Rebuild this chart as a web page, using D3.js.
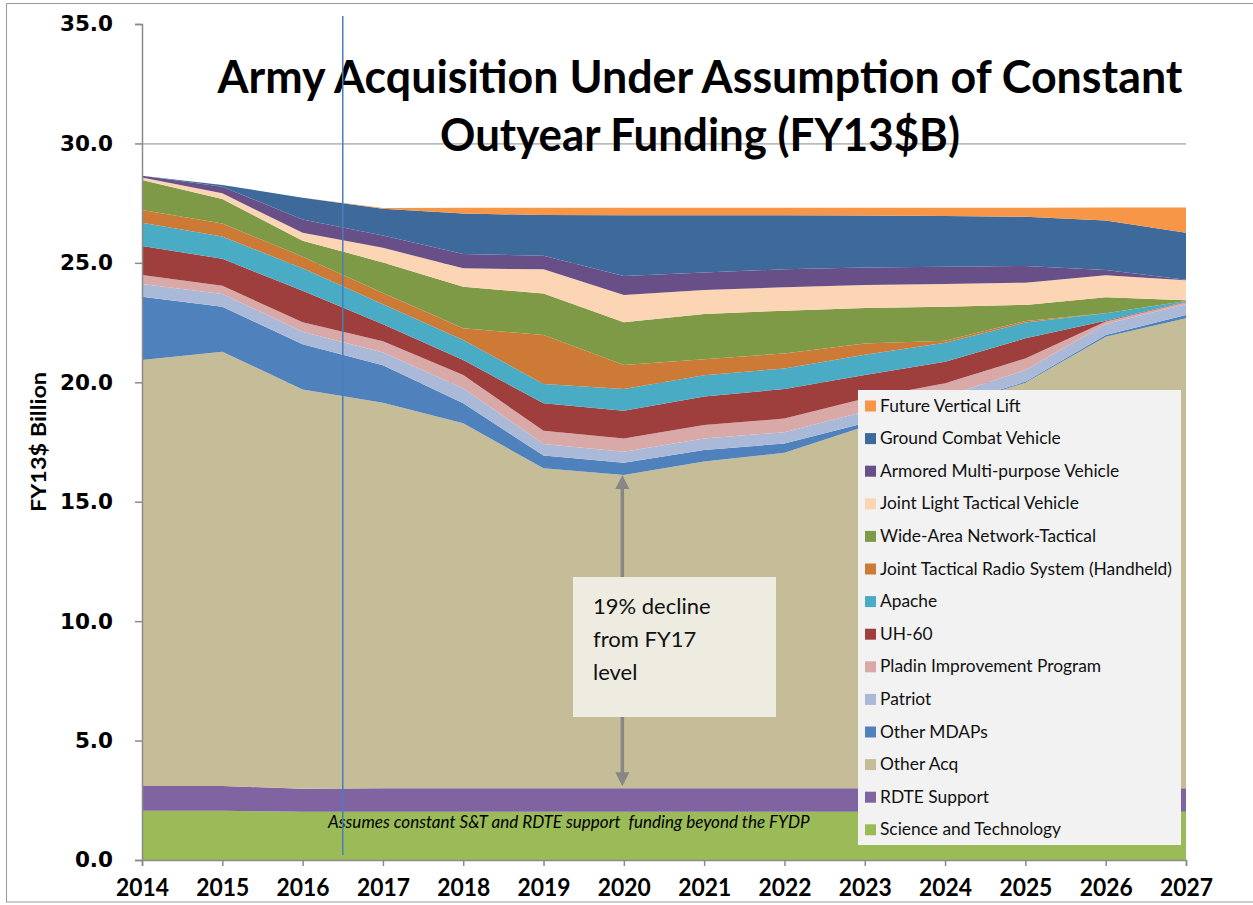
<!DOCTYPE html>
<html><head><meta charset="utf-8">
<script src="https://cdn.jsdelivr.net/npm/d3@7"></script>
<style>body{margin:0;background:#fff}</style>
</head><body>
<svg id="chart" width="1253" height="905"></svg>
<script>
// ---- data (FY13$ Billion), stacked bottom -> top ----
const years        = [2014,2015,2016,2017,2018,2019,2020,2021,2022,2023,2024,2025,2026,2027];
const scienceTech  = [2.06,2.06,2.02,2.02,2.02,2.02,2.02,2.02,2.02,2.02,2.02,2.02,2.02,2.02];
const rdteSupport  = [1.04,1.04,0.96,0.98,0.98,0.98,0.98,0.98,0.98,0.98,0.98,0.98,0.98,0.98];
const otherAcq     = [17.83,18.18,16.72,16.14,15.28,13.40,13.12,13.68,14.05,15.15,15.92,16.98,18.91,19.68];
const otherMDAPs   = [2.65,1.88,1.89,1.57,0.84,0.53,0.51,0.48,0.39,0.15,0.06,0.04,0.07,0.14];
const patriot      = [0.53,0.54,0.53,0.54,0.63,0.49,0.46,0.49,0.47,0.48,0.42,0.49,0.46,0.45];
const paladin      = [0.38,0.34,0.39,0.47,0.55,0.55,0.56,0.56,0.57,0.54,0.56,0.49,0.10,0.08];
const uh60         = [1.22,1.13,1.32,0.71,0.63,1.15,1.16,1.19,1.24,0.98,0.90,0.84,0.04,0.02];
const apache       = [0.97,0.93,0.94,0.84,0.84,0.81,0.91,0.89,0.86,0.85,0.80,0.66,0.31,0.03];
const jtrs         = [0.53,0.55,0.49,0.47,0.49,2.05,1.00,0.67,0.63,0.47,0.08,0.07,0.00,0.00];
const winT         = [1.26,1.02,0.67,1.28,1.74,1.74,1.79,1.90,1.79,1.49,1.42,0.67,0.67,0.03];
const jltv         = [0.10,0.24,0.33,0.61,0.77,1.01,1.14,1.00,0.98,0.96,0.95,0.93,0.92,0.84];
const amv          = [0.08,0.28,0.56,0.52,0.60,0.57,0.80,0.74,0.75,0.74,0.73,0.70,0.22,0.02];
const gcv          = [0.00,0.07,0.91,1.12,1.70,1.70,2.54,2.39,2.26,2.17,2.12,2.06,2.07,1.97];
const fvl          = [0.00,0.00,0.00,0.03,0.24,0.31,0.32,0.32,0.32,0.33,0.35,0.38,0.55,1.06];

const seriesNames = ["Science and Technology","RDTE Support","Other Acq","Other MDAPs","Patriot",
  "Pladin Improvement Program","UH-60","Apache","Joint Tactical Radio System (Handheld)",
  "Wide-Area Network-Tactical","Joint Light Tactical Vehicle","Armored Multi-purpose Vehicle",
  "Ground Combat Vehicle","Future Vertical Lift"];
const seriesValues = [scienceTech,rdteSupport,otherAcq,otherMDAPs,patriot,paladin,uh60,apache,jtrs,winT,jltv,amv,gcv,fvl];
const seriesColors = ["#9bbb59","#8064a2","#c4bd97","#4f81bd","#aab9d7","#d9a9a8","#9e3f3d","#4aabc5",
  "#cc7a36","#7e9a47","#fcd5b5","#684f87","#3d6a9a","#f79646"];
const yTicks = [0,5,10,15,20,25,30,35];

const titleLines = ["Army Acquisition Under Assumption of Constant","Outyear Funding (FY13$B)"];
const yAxisLabel = "FY13$ Billion";
const noteText = "Assumes constant S&T and RDTE support  funding beyond the FYDP";
const calloutLines = ["19% decline","from FY17","level"];

// ---- build ----
const svg = d3.select("#chart");
const x = d3.scaleLinear().domain([2014,2027]).range([142,1186]);
const y = d3.scaleLinear().domain([0,35]).range([860,24]);

const table = years.map((yr,i)=>{const o={year:yr}; seriesNames.forEach((n,k)=>o[n]=seriesValues[k][i]); return o;});
const stacked = d3.stack().keys(seriesNames)(table);

// outer border
svg.append("rect").attr("x",6.5).attr("y",3.5).attr("width",1270).attr("height",898.5)
  .attr("fill","none").attr("stroke","#9a9a9a").attr("stroke-width",1);

// gridlines
svg.append("g").selectAll("line").data(yTicks.filter(t=>t>0&&t<35)).join("line")
  .attr("x1",x(2014)).attr("x2",x(2027)).attr("y1",d=>y(d)+0.5).attr("y2",d=>y(d)+0.5)
  .attr("stroke","#8a8a8a").attr("stroke-width",1);

// areas
const area = d3.area().x(d=>x(d.data.year)).y0(d=>y(d[0])).y1(d=>y(d[1]));
svg.append("g").selectAll("path").data(stacked).join("path")
  .attr("d",area).attr("fill",(d,i)=>seriesColors[i]);

// axes
const yAxis = svg.append("g").attr("transform",`translate(${x(2014)},0)`)
  .call(d3.axisLeft(y).tickValues(yTicks).tickFormat(d3.format(".1f")).tickSize(7).tickPadding(22));
yAxis.selectAll("path,line").attr("stroke","#8a8a8a").attr("stroke-width",1.5);
yAxis.selectAll("text").attr("font-family","DejaVu Sans").attr("font-weight","bold")
  .attr("font-size",21.5).attr("fill","#000");

const xAxis = svg.append("g").attr("transform",`translate(0,${y(0)})`)
  .call(d3.axisBottom(x).tickValues(years).tickFormat(d3.format("d")).tickSize(6).tickPadding(12));
xAxis.selectAll("path,line").attr("stroke","#8a8a8a").attr("stroke-width",1.5);
xAxis.selectAll("text").attr("font-family","Lato").attr("font-weight","bold")
  .attr("font-size",25).attr("fill","#000")
  .attr("textLength",53).attr("lengthAdjust","spacingAndGlyphs");

// y axis label
svg.append("text").attr("transform",`translate(46,442) rotate(-90)`).attr("text-anchor","middle")
  .attr("font-family","Lato").attr("font-weight","bold").attr("font-size",21)
  .attr("textLength",140).attr("lengthAdjust","spacingAndGlyphs").text(yAxisLabel);

// helper to fit font-size to width
function fit(sel, w){ const cur = sel.node().getComputedTextLength(); const fs=parseFloat(sel.attr("font-size")); sel.attr("font-size", fs*w/cur); return fs*w/cur; }

// title (condensed to match)
svg.append("text").attr("x",700).attr("y",93).attr("text-anchor","middle")
  .attr("font-family","Lato").attr("font-weight","bold").attr("font-size",46)
  .attr("textLength",965).attr("lengthAdjust","spacingAndGlyphs").text(titleLines[0]);
svg.append("text").attr("x",700).attr("y",151).attr("text-anchor","middle")
  .attr("font-family","Lato").attr("font-weight","bold").attr("font-size",46)
  .attr("textLength",520).attr("lengthAdjust","spacingAndGlyphs").text(titleLines[1]);

// note
const nt = svg.append("text").attr("x",328).attr("y",828).attr("font-family","Lato").attr("font-style","italic")
  .attr("font-size",15).attr("xml:space","preserve").style("white-space","pre").text(noteText);
fit(nt, 482);

// vertical marker line
svg.append("line").attr("x1",x(2016.5)).attr("x2",x(2016.5)).attr("y1",16).attr("y2",855)
  .attr("stroke","#4a7ebb").attr("stroke-width",1.5);

// callout arrow
const ax = x(2020)-1.5;
const iOA = years.indexOf(2020);
const yTop = y(stacked[2][iOA][1]);
const yBot = y(stacked[1][iOA][1]) - 2;
svg.append("line").attr("x1",ax).attr("x2",ax).attr("y1",yTop+12).attr("y2",yBot-12)
  .attr("stroke","#878787").attr("stroke-width",3.5);
svg.append("path").attr("d",`M${ax},${yTop} L${ax-7},${yTop+14} L${ax+7},${yTop+14} Z`).attr("fill","#878787");
svg.append("path").attr("d",`M${ax},${yBot} L${ax-7},${yBot-14} L${ax+7},${yBot-14} Z`).attr("fill","#878787");

// callout box
svg.append("rect").attr("x",573).attr("y",577).attr("width",203).attr("height",140).attr("fill","#eeece1");
calloutLines.forEach((s,i)=>{
  svg.append("text").attr("x",593).attr("y",614+i*33).attr("font-family","Lato").attr("font-size",22)
    .attr("fill","#111").text(s);
});

// legend
const lg = svg.append("g");
lg.append("rect").attr("x",858).attr("y",390).attr("width",323).attr("height",455).attr("fill","#f2f2f2");
const legendOrder = seriesNames.map((n,i)=>i).reverse();
let lfs = 16;
legendOrder.forEach((k,j)=>{
  const cy = 406 + j*32.6;
  lg.append("rect").attr("x",865).attr("y",cy-5.5).attr("width",11).attr("height",11).attr("fill",seriesColors[k]);
  lg.append("text").attr("class","lt").attr("x",880).attr("y",cy+5.5).attr("font-family","Lato")
    .attr("font-size",lfs).attr("fill","#111").text(seriesNames[k]);
});
let maxW = 0; lg.selectAll("text.lt").each(function(){maxW=Math.max(maxW,this.getComputedTextLength());});
lfs = lfs*292/maxW;
lg.selectAll("text.lt").attr("font-size",lfs);
</script>
</body></html>
